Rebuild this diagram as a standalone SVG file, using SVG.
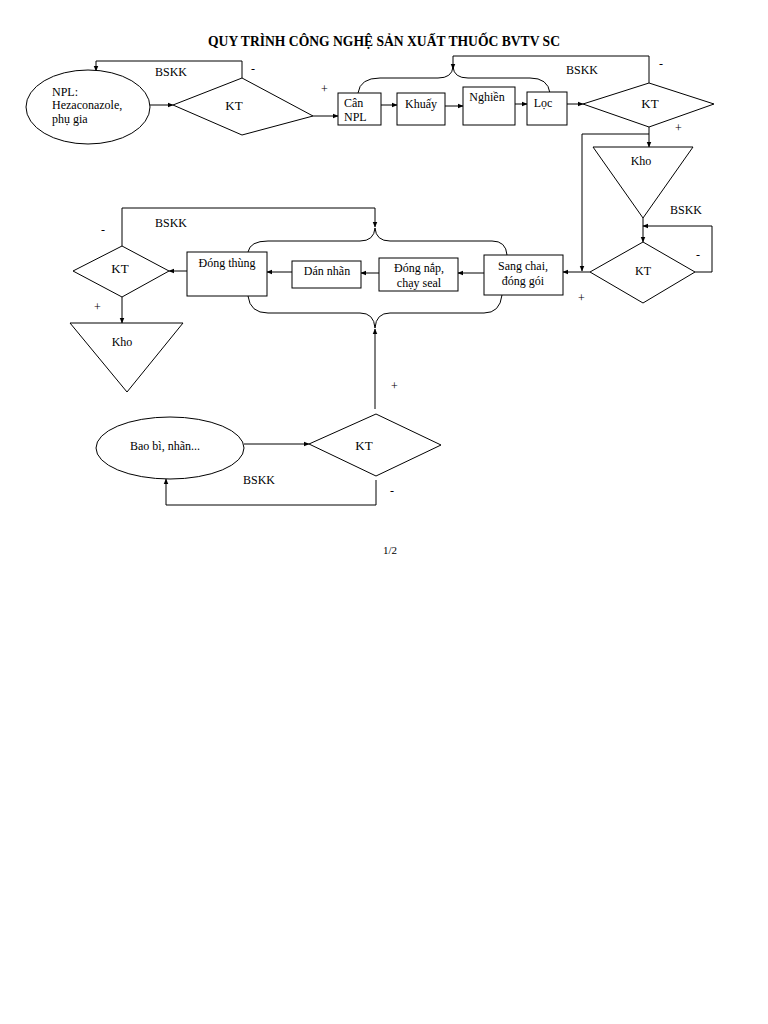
<svg xmlns="http://www.w3.org/2000/svg" width="768" height="1024" viewBox="0 0 768 1024">
<defs>
<marker id="ah" viewBox="0 0 10 10" refX="9" refY="5" markerWidth="6" markerHeight="6" orient="auto" markerUnits="userSpaceOnUse">
<path d="M0,1 L10,5 L0,9 Z" fill="#000"/>
</marker>
<style>
.s{fill:#fff;stroke:#000;stroke-width:1}
.l{fill:none;stroke:#000;stroke-width:1}
.a{fill:none;stroke:#000;stroke-width:1;marker-end:url(#ah)}
text{font-family:"Liberation Serif","Times New Roman",serif;font-size:12px;fill:#000}
.c{text-anchor:middle}
.t{font-weight:bold;font-size:13.6px}
.k{font-size:13px}
</style>
</defs>
<rect width="768" height="1024" fill="#fff"/>
<text class="c t" x="384" y="46">QUY TRÌNH CÔNG NGHỆ SẢN XUẤT THUỐC BVTV SC</text>

<g id="connectors">
<line class="a" x1="150" y1="105" x2="173" y2="105"/>
<polyline class="a" points="242,78 242,61 96,61 96,71"/>
<line class="a" x1="313" y1="116" x2="338" y2="116"/>
<line class="a" x1="381" y1="105" x2="397" y2="105"/>
<line class="a" x1="445" y1="106" x2="463" y2="106"/>
<line class="a" x1="515" y1="104" x2="527" y2="104"/>
<line class="a" x1="567" y1="104" x2="583" y2="104"/>
<path class="l" d="M358,93 Q360,78 380,78 L438,78 Q452,78 453,67 Q454,78 468,78 L530,78 Q548,78 550,93"/>
<polyline class="a" points="649,83 649,56 453,56 453,69"/>
<line class="a" x1="649" y1="127" x2="649" y2="147"/>
<polyline class="a" points="649,134 582,134 582,271"/>
<line class="a" x1="643" y1="218" x2="643" y2="242"/>
<polyline class="a" points="695,272 712,272 712,226 643,226"/>
<line class="a" x1="590" y1="272" x2="563" y2="272"/>
<line class="a" x1="484" y1="273" x2="458" y2="273"/>
<line class="a" x1="379" y1="273" x2="361" y2="273"/>
<line class="a" x1="292" y1="272" x2="267" y2="272"/>
<line class="a" x1="187" y1="271" x2="169" y2="271"/>
<path class="l" d="M248,252 Q250,241 268,241 L360,241 Q374,241 375,228 Q376,241 390,241 L492,241 Q506,241 507,255"/>
<path class="l" d="M248,296 Q250,313 268,313 L360,313 Q374,313 375,328 Q376,313 390,313 L484,313 Q500,313 502,295"/>
<polyline class="a" points="122,246 122,208 375,208 375,227"/>
<line class="a" x1="122" y1="297" x2="122" y2="323"/>
<line class="a" x1="375" y1="409" x2="375" y2="329"/>
<line class="a" x1="244" y1="444" x2="309" y2="444"/>
<polyline class="a" points="376,480 376,505 166,505 166,479"/>
</g>

<g id="npl">
<ellipse class="s" cx="88" cy="107" rx="62" ry="37"/>
<text x="52" y="96">NPL:</text>
<text x="52" y="109">Hezaconazole,</text>
<text x="52" y="123">phụ gia</text>
</g>
<g id="kt1">
<polygon class="s" points="173,105 242,78 313,116 242,135"/>
<text class="c k" x="234" y="110">KT</text>
</g>
<g id="can-npl">
<rect class="s" x="338" y="93" width="43" height="32"/>
<text x="344" y="107">Cân</text>
<text x="344" y="121">NPL</text>
</g>
<g id="khuay">
<rect class="s" x="397" y="93" width="48" height="32"/>
<text class="c" x="421" y="108">Khuấy</text>
</g>
<g id="nghien">
<rect class="s" x="463" y="87" width="52" height="38"/>
<text class="c" x="487" y="101">Nghiền</text>
</g>
<g id="loc">
<rect class="s" x="527" y="92" width="40" height="33"/>
<text class="c" x="543" y="107">Lọc</text>
</g>
<g id="kt2">
<polygon class="s" points="583,104 649,83 714,104 649,127"/>
<text class="c k" x="650" y="108">KT</text>
</g>
<g id="kho1">
<polygon class="s" points="593,147 693,147 643,218"/>
<text class="c" x="641" y="165">Kho</text>
</g>
<g id="kt3">
<polygon class="s" points="590,272 643,242 695,272 643,303"/>
<text class="c" x="643" y="275">KT</text>
</g>
<g id="sang-chai">
<rect class="s" x="484" y="255" width="79" height="40"/>
<text class="c" x="523" y="270">Sang chai,</text>
<text class="c" x="523" y="285">đóng gói</text>
</g>
<g id="dong-nap">
<rect class="s" x="379" y="258" width="79" height="33"/>
<text class="c" x="419" y="272">Đóng nắp,</text>
<text class="c" x="419" y="287">chạy seal</text>
</g>
<g id="dan-nhan">
<rect class="s" x="292" y="261" width="69" height="27"/>
<text class="c" x="327" y="275">Dán nhãn</text>
</g>
<g id="dong-thung">
<rect class="s" x="187" y="252" width="80" height="44"/>
<text class="c" x="227" y="267">Đóng thùng</text>
</g>
<g id="kt4">
<polygon class="s" points="73,271 122,246 169,271 122,297"/>
<text class="c k" x="120" y="273">KT</text>
</g>
<g id="kho2">
<polygon class="s" points="70,323 183,323 127,392"/>
<text class="c" x="122" y="346">Kho</text>
</g>
<g id="bao-bi">
<ellipse class="s" cx="170" cy="448" rx="74" ry="31"/>
<text class="c" x="165" y="450">Bao bì, nhãn...</text>
</g>
<g id="kt5">
<polygon class="s" points="309,444 376,414 441,445 376,476"/>
<text class="c k" x="364" y="450">KT</text>
</g>

<g id="labels">
<text x="155" y="76">BSKK</text>
<text x="251" y="73">-</text>
<text x="321" y="93">+</text>
<text x="566" y="74">BSKK</text>
<text x="659" y="68">-</text>
<text x="675" y="132">+</text>
<text x="670" y="214">BSKK</text>
<text x="696" y="259">-</text>
<text x="578" y="302">+</text>
<text x="155" y="227">BSKK</text>
<text x="101" y="234">-</text>
<text x="94" y="311">+</text>
<text x="391" y="390">+</text>
<text x="243" y="484">BSKK</text>
<text x="390" y="495">-</text>
<text class="c" x="390" y="554" style="font-size:11px">1/2</text>
</g>
</svg>
